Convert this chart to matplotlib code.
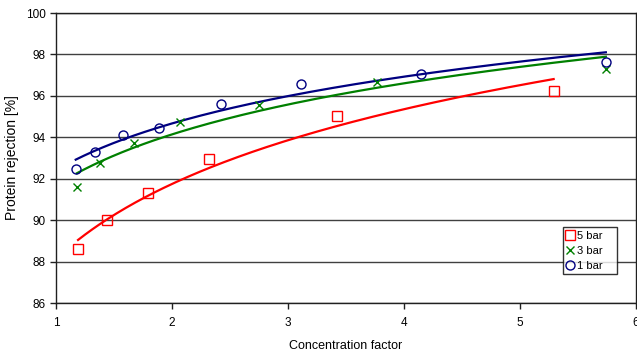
import numpy as np
import matplotlib.pyplot as plt

plt.rcParams['font.family'] = ['Liberation Sans', 'DejaVu Sans']

# concentration factor / protein rejection [%]
cf_5bar = [1.19, 1.44, 1.79, 2.32, 3.42, 5.29]
rej_5bar = [88.6, 90.0, 91.3, 92.95, 95.03, 96.24]

cf_3bar = [1.18, 1.38, 1.67, 2.07, 2.75, 3.77, 5.74]
rej_3bar = [91.62, 92.75, 93.74, 94.73, 95.57, 96.69, 97.30]

cf_1bar = [1.17, 1.34, 1.58, 1.89, 2.42, 3.11, 4.15, 5.74]
rej_1bar = [92.46, 93.31, 94.12, 94.44, 95.61, 96.58, 97.06, 97.63]

series = [
    ('5 bar', cf_5bar, rej_5bar, '#ff0000', 's'),
    ('3 bar', cf_3bar, rej_3bar, '#008000', 'x'),
    ('1 bar', cf_1bar, rej_1bar, '#000080', 'o'),
]

fig = plt.figure(figsize=(6.37, 3.53), dpi=100)
ax = fig.add_axes([56 / 637, 1 - 303 / 353, 580 / 637, 290 / 353])

for label, x, y, color, marker in series:
    x = np.array(x)
    y = np.array(y)
    # logarithmic trend line (Excel style)
    b, a = np.polyfit(np.log(x), y, 1)
    xs = np.linspace(x.min(), x.max(), 200)
    ax.plot(xs, a + b * np.log(xs), color=color, lw=1.6, zorder=2)
    if marker == 'x':
        ax.plot(x, y, linestyle='none', marker='x', ms=6, mew=1.0,
                color=color, label=label, zorder=3)
    else:
        ax.plot(x, y, linestyle='none', marker=marker, ms=6.5, mew=1.0,
                mfc='none', mec=color, label=label, zorder=3)

ax.set_xlim(1, 6)
ax.set_ylim(86, 100)
ax.set_xticks(range(1, 7))
ax.set_yticks(range(86, 101, 2))
ax.yaxis.grid(True, color='#404040', lw=1.0)
ax.set_axisbelow(True)
for s in ax.spines.values():
    s.set_color('#202020')
    s.set_linewidth(1.0)
ax.tick_params(labelsize=8.5, length=4, width=1, colors='#202020', labelcolor='black')
ax.tick_params(axis='x', pad=6)

ax.set_xlabel('Concentration factor', fontsize=9, labelpad=8)
ax.set_ylabel('Protein rejection [%]', fontsize=10, labelpad=5)

leg = ax.legend(loc='upper left', bbox_to_anchor=(0.8736, 0.085, 0.0931, 0.176),
                mode='expand', borderaxespad=0,
                fontsize=8, frameon=True, fancybox=False, handlelength=0.8,
                handletextpad=0.2, labelspacing=0.45, borderpad=0.3)
leg.get_frame().set_edgecolor('black')
leg.get_frame().set_linewidth(1.0)

fig.savefig('out.png', dpi=100)
